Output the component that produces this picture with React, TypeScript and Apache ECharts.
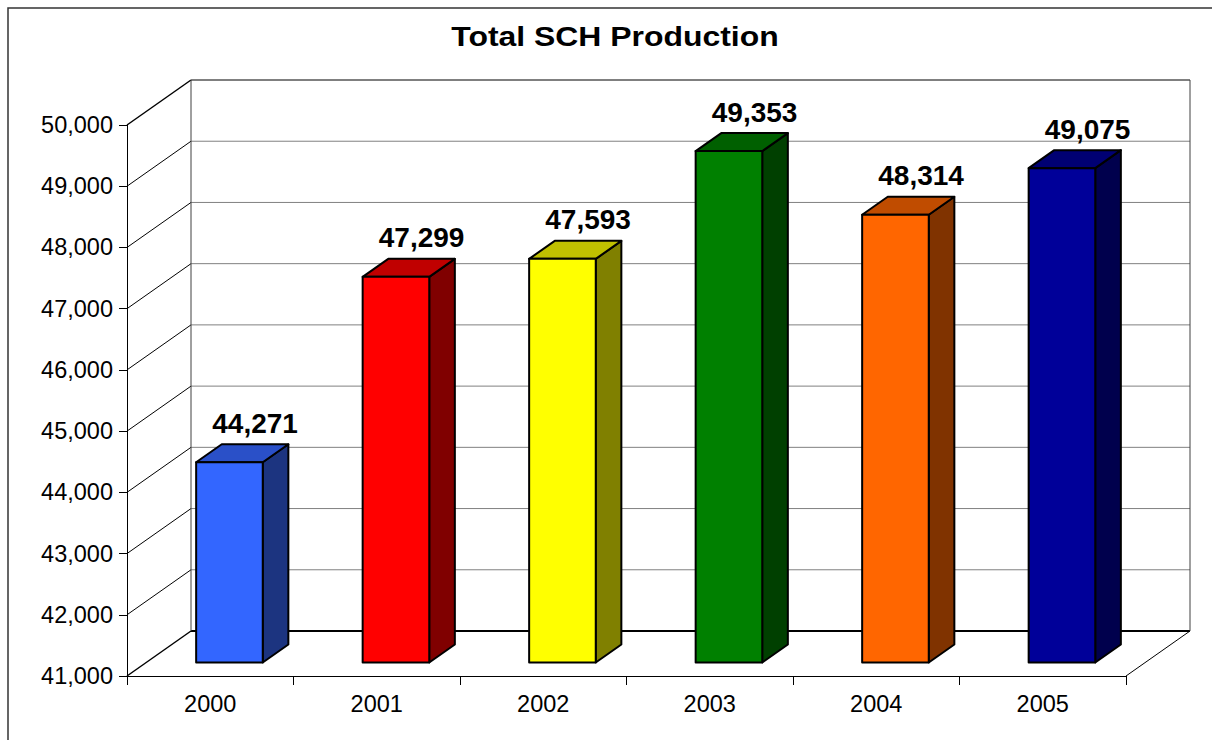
import React, { useEffect, useRef } from "react";
import * as echarts from "echarts";

const categories = ["2000", "2001", "2002", "2003", "2004", "2005"];
const values = [44271, 47299, 47593, 49353, 48314, 49075];
const frontColors = ["#3366FF", "#FF0000", "#FFFF00", "#008000", "#FF6600", "#000099"];
const topColors = ["#2A50C8", "#C00000", "#C0C000", "#006000", "#C04C00", "#000073"];
const sideColors = ["#1C3480", "#800000", "#808000", "#004000", "#803300", "#00004D"];
const yMin = 41000;
const yMax = 50000;
const yInterval = 1000;
const titleText = "Total SCH Production";

const FONT = "'Liberation Sans', Arial, sans-serif";
const DX = 64;
const DY = -45;
const BAR_FRONT = 0.3;
const BAR_DEPTH = 0.4;

const fmt = (v: number) => Math.round(v).toLocaleString("en-US");

export default function App() {
  const ref = useRef<HTMLDivElement>(null);
  useEffect(() => {
    if (!ref.current) return;
    const chart = echarts.init(ref.current, null, { renderer: "svg" });
    const ticks: number[] = [];
    for (let v = yMin; v <= yMax; v += yInterval) ticks.push(v);

    const wallRender = (params: any, api: any) => {
      const cs = params.coordSys;
      const x0 = cs.x;
      const x1 = cs.x + cs.width;
      const children: any[] = [];
      ticks.forEach((t) => {
        const y = api.coord([0, t])[1];
        const isEdge = t === yMin || t === yMax;
        children.push({
          type: "line",
          shape: { x1: x0 + DX, y1: y + DY, x2: x1 + DX, y2: y + DY },
          style: {
            stroke: isEdge ? "#000" : "#808080",
            lineWidth: t === yMin ? 2 : 1,
          },
        });
        children.push({
          type: "line",
          shape: { x1: x0, y1: y, x2: x0 + DX, y2: y + DY },
          style: { stroke: "#000", lineWidth: isEdge ? 1.5 : 1 },
        });
      });
      const yTop = api.coord([0, yMax])[1];
      const yBot = api.coord([0, yMin])[1];
      children.push({
        type: "line",
        shape: { x1: x0 + DX, y1: yTop + DY, x2: x0 + DX, y2: yBot + DY },
        style: { stroke: "#404040", lineWidth: 1 },
      });
      children.push({
        type: "line",
        shape: { x1: x1 + DX, y1: yTop + DY, x2: x1 + DX, y2: yBot + DY },
        style: { stroke: "#404040", lineWidth: 1 },
      });
      children.push({
        type: "line",
        shape: { x1: x1, y1: yBot, x2: x1 + DX, y2: yBot + DY },
        style: { stroke: "#000", lineWidth: 1 },
      });
      return { type: "group", children };
    };

    const barRender = (params: any, api: any) => {
      const idx = api.value(0);
      const v = api.value(1);
      const top = api.coord([idx, v]);
      const bot = api.coord([idx, yMin]);
      const hw = api.size([1, 0])[0] * 0.2;
      const ox = BAR_FRONT * DX;
      const oy = BAR_FRONT * DY;
      const bdx = BAR_DEPTH * DX;
      const bdy = BAR_DEPTH * DY;
      const xl = top[0] + ox - hw;
      const xr = top[0] + ox + hw;
      const yt = top[1] + oy;
      const yb = bot[1] + oy;
      const i = params.dataIndex;
      const stroke = { stroke: "#000", lineWidth: 2, lineJoin: "round" };
      return {
        type: "group",
        children: [
          {
            type: "polygon",
            shape: { points: [[xr, yt], [xr + bdx, yt + bdy], [xr + bdx, yb + bdy], [xr, yb]] },
            style: { fill: sideColors[i], ...stroke },
          },
          {
            type: "polygon",
            shape: { points: [[xl, yt], [xr, yt], [xr + bdx, yt + bdy], [xl + bdx, yt + bdy]] },
            style: { fill: topColors[i], ...stroke },
          },
          {
            type: "rect",
            shape: { x: xl, y: yt, width: xr - xl, height: yb - yt },
            style: { fill: frontColors[i], ...stroke },
          },
          {
            type: "text",
            x: top[0] + ox + bdx,
            y: yt + bdy - 7,
            style: {
              text: fmt(v),
              font: `bold 28px ${FONT}`,
              fill: "#000",
              textAlign: "center",
              textVerticalAlign: "bottom",
            },
          },
        ],
      };
    };

    chart.setOption({
      animation: false,
      backgroundColor: "#fff",
      graphic: [
        {
          type: "rect",
          shape: { x: 8, y: 8, width: 1230, height: 760 },
          style: { fill: "none", stroke: "#333", lineWidth: 1.5 },
          silent: true,
        },
        {
          type: "text",
          x: 615,
          y: 22,
          scaleX: 1.14,
          style: {
            text: titleText,
            font: `bold 28px ${FONT}`,
            fill: "#000",
            textAlign: "center",
            textVerticalAlign: "top",
          },
          silent: true,
        },
      ],
      grid: { left: 127, right: 86, top: 125, bottom: 64, containLabel: false },
      xAxis: {
        type: "category",
        data: categories,
        boundaryGap: true,
        axisLine: { show: true, lineStyle: { color: "#000", width: 1 } },
        axisTick: { show: true, length: 9, lineStyle: { color: "#000" } },
        axisLabel: { fontFamily: FONT, fontSize: 23.5, color: "#000", margin: 16 },
        splitLine: { show: false },
      },
      yAxis: {
        type: "value",
        min: yMin,
        max: yMax,
        interval: yInterval,
        axisLine: { show: true, lineStyle: { color: "#000", width: 1 } },
        axisTick: { show: true, length: 8, lineStyle: { color: "#000" } },
        axisLabel: {
          fontFamily: FONT,
          fontSize: 23.5,
          color: "#000",
          margin: 14,
          formatter: (v: number) => fmt(v),
        },
        splitLine: { show: false },
      },
      series: [
        {
          type: "custom",
          renderItem: wallRender,
          data: [[0, yMin]],
          z: 1,
          silent: true,
          clip: false,
        },
        {
          type: "custom",
          renderItem: barRender,
          data: values.map((v, i) => [i, v]),
          z: 2,
          silent: true,
          clip: false,
        },
      ],
    });
    return () => chart.dispose();
  }, []);
  return (
    <div
      ref={ref}
      style={{ position: "fixed", left: 0, top: 0, width: 1212, height: 740, background: "#fff" }}
    />
  );
}
